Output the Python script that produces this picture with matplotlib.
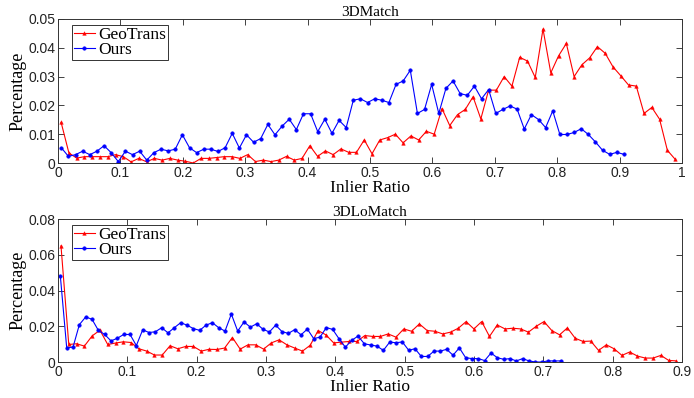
import numpy as np
import matplotlib
matplotlib.use('Agg')
import matplotlib.pyplot as plt

# 3DMatch: inlier-ratio histogram, 80 bins each
match_geo = [0.0141, 0.0035, 0.0017, 0.0022, 0.0022, 0.0022, 0.0022, 0.0029, 0.0022, 0.0004,
             0.0016, 0.0004, 0.0016, 0.0010, 0.0016, 0.0010, 0.0006, 0.0000, 0.0016, 0.0016,
             0.0019, 0.0022, 0.0022, 0.0016, 0.0029, 0.0005, 0.0010, 0.0005, 0.0010, 0.0023,
             0.0010, 0.0016, 0.0060, 0.0023, 0.0042, 0.0029, 0.0049, 0.0037, 0.0037, 0.0080,
             0.0032, 0.0080, 0.0088, 0.0100, 0.0070, 0.0094, 0.0080, 0.0110, 0.0100, 0.0189,
             0.0130, 0.0168, 0.0186, 0.0230, 0.0153, 0.0253, 0.0253, 0.0300, 0.0267, 0.0367,
             0.0354, 0.0297, 0.0465, 0.0313, 0.0372, 0.0415, 0.0300, 0.0341, 0.0365, 0.0404,
             0.0381, 0.0334, 0.0303, 0.0271, 0.0267, 0.0172, 0.0193, 0.0152, 0.0044, 0.0013]
match_ours = [0.0053, 0.0023, 0.0029, 0.0041, 0.0029, 0.0041, 0.0060, 0.0036, 0.0005, 0.0041,
              0.0029, 0.0041, 0.0010, 0.0036, 0.0048, 0.0042, 0.0048, 0.0098, 0.0053, 0.0036,
              0.0048, 0.0048, 0.0040, 0.0053, 0.0103, 0.0052, 0.0098, 0.0072, 0.0085, 0.0134,
              0.0098, 0.0128, 0.0152, 0.0116, 0.0171, 0.0171, 0.0109, 0.0152, 0.0103, 0.0148,
              0.0123, 0.0218, 0.0223, 0.0210, 0.0223, 0.0218, 0.0210, 0.0273, 0.0285, 0.0322,
              0.0172, 0.0186, 0.0273, 0.0172, 0.0259, 0.0285, 0.0241, 0.0235, 0.0267, 0.0223,
              0.0255, 0.0172, 0.0186, 0.0198, 0.0187, 0.0118, 0.0168, 0.0151, 0.0123, 0.0181,
              0.0099, 0.0099, 0.0106, 0.0119, 0.0099, 0.0073, 0.0044, 0.0030, 0.0037, 0.0030]

# 3DLoMatch
lo_geo = [0.0650, 0.0098, 0.0102, 0.0089, 0.0146, 0.0178, 0.0098, 0.0106, 0.0113, 0.0109,
          0.0074, 0.0061, 0.0039, 0.0039, 0.0091, 0.0074, 0.0087, 0.0087, 0.0061, 0.0071,
          0.0070, 0.0078, 0.0137, 0.0072, 0.0096, 0.0096, 0.0072, 0.0107, 0.0124, 0.0096,
          0.0078, 0.0061, 0.0094, 0.0176, 0.0152, 0.0107, 0.0111, 0.0115, 0.0115, 0.0148,
          0.0143, 0.0143, 0.0157, 0.0139, 0.0185, 0.0172, 0.0213, 0.0176, 0.0172, 0.0157,
          0.0167, 0.0189, 0.0226, 0.0185, 0.0226, 0.0143, 0.0207, 0.0185, 0.0189, 0.0185,
          0.0167, 0.0200, 0.0226, 0.0176, 0.0152, 0.0191, 0.0133, 0.0115, 0.0117, 0.0065,
          0.0096, 0.0074, 0.0037, 0.0056, 0.0033, 0.0022, 0.0022, 0.0037, 0.0009, 0.0006]
lo_ours = [0.0480, 0.0080, 0.0083, 0.0209, 0.0252, 0.0239, 0.0177, 0.0154, 0.0118, 0.0133,
           0.0154, 0.0154, 0.0092, 0.0180, 0.0165, 0.0169, 0.0192, 0.0163, 0.0192, 0.0220,
           0.0206, 0.0187, 0.0177, 0.0206, 0.0220, 0.0192, 0.0173, 0.0268, 0.0173, 0.0224,
           0.0195, 0.0214, 0.0183, 0.0168, 0.0206, 0.0170, 0.0160, 0.0181, 0.0152, 0.0184,
           0.0131, 0.0139, 0.0193, 0.0182, 0.0130, 0.0083, 0.0121, 0.0145, 0.0102, 0.0095,
           0.0089, 0.0065, 0.0111, 0.0108, 0.0112, 0.0066, 0.0074, 0.0031, 0.0031, 0.0061,
           0.0061, 0.0071, 0.0038, 0.0079, 0.0024, 0.0019, 0.0019, 0.0008, 0.0050, 0.0024,
           0.0015, 0.0019, 0.0006, 0.0019, 0.0006, 0.0000, 0.0000, 0.0006, 0.0006, 0.0006]

# bin centres: first and last centre
match_geo_x = np.linspace(0.005, 0.989, len(match_geo))
match_ours_x = np.linspace(0.0053, 0.907, len(match_ours))
lo_geo_x = np.linspace(0.0043, 0.892, len(lo_geo))
lo_ours_x = np.linspace(0.0034, 0.725, len(lo_ours))

panels = [
    ('3DMatch', match_geo_x, match_geo, match_ours_x, match_ours,
     np.arange(0, 1.01, 0.1), np.arange(0, 0.051, 0.01), 1.0, 0.05),
    ('3DLoMatch', lo_geo_x, lo_geo, lo_ours_x, lo_ours,
     np.arange(0, 0.91, 0.1), np.arange(0, 0.081, 0.02), 0.9, 0.08),
]

serif = 'Liberation Serif'
sans = 'Liberation Sans'

fig = plt.figure(figsize=(6.94, 3.98), dpi=100)
rects = [[58/694, 1-163/398, 624/694, 144/398],
         [58/694, 1-362/398, 624/694, 143/398]]

for rect, (title, gx, gy, ox, oy, xt, yt, xmax, ymax) in zip(rects, panels):
    ax = fig.add_axes(rect)
    ax.plot(gx, gy, color='red', lw=0.8, marker='^', ms=2.6, mew=0.3, label='GeoTrans')
    ax.plot(ox, oy, color='blue', lw=0.8, marker='o', ms=2.6, mew=0.3, label='Ours')
    ax.set_xlim(0, xmax)
    ax.set_ylim(0, ymax)
    ax.set_xticks(xt)
    ax.set_xticklabels(['%g' % round(v, 2) for v in xt], family=sans)
    ax.set_yticks(yt)
    ax.set_yticklabels(['%g' % round(v, 2) for v in yt], family=sans)
    ax.tick_params(direction='in', top=True, right=True, length=4, width=0.6,
                   labelsize=10, colors='#222222', pad=2)
    for s in ax.spines.values():
        s.set_linewidth(0.7)
        s.set_color('#333333')
    ax.set_title(title, family=serif, fontsize=11, pad=2)
    ax.set_xlabel('Inlier Ratio', family=serif, fontsize=12.5, labelpad=0)
    ax.set_ylabel('Percentage', family=serif, fontsize=13, labelpad=1)
    leg = ax.legend(loc='upper left', bbox_to_anchor=(0.022, 0.96), borderaxespad=0,
                    prop={'family': serif, 'size': 12.5}, fancybox=False, framealpha=1,
                    edgecolor='#333333', handlelength=1.2, handletextpad=0.2,
                    borderpad=0.12, labelspacing=-0.05)
    leg.get_frame().set_linewidth(0.7)

fig.savefig('out.png', dpi=100)
